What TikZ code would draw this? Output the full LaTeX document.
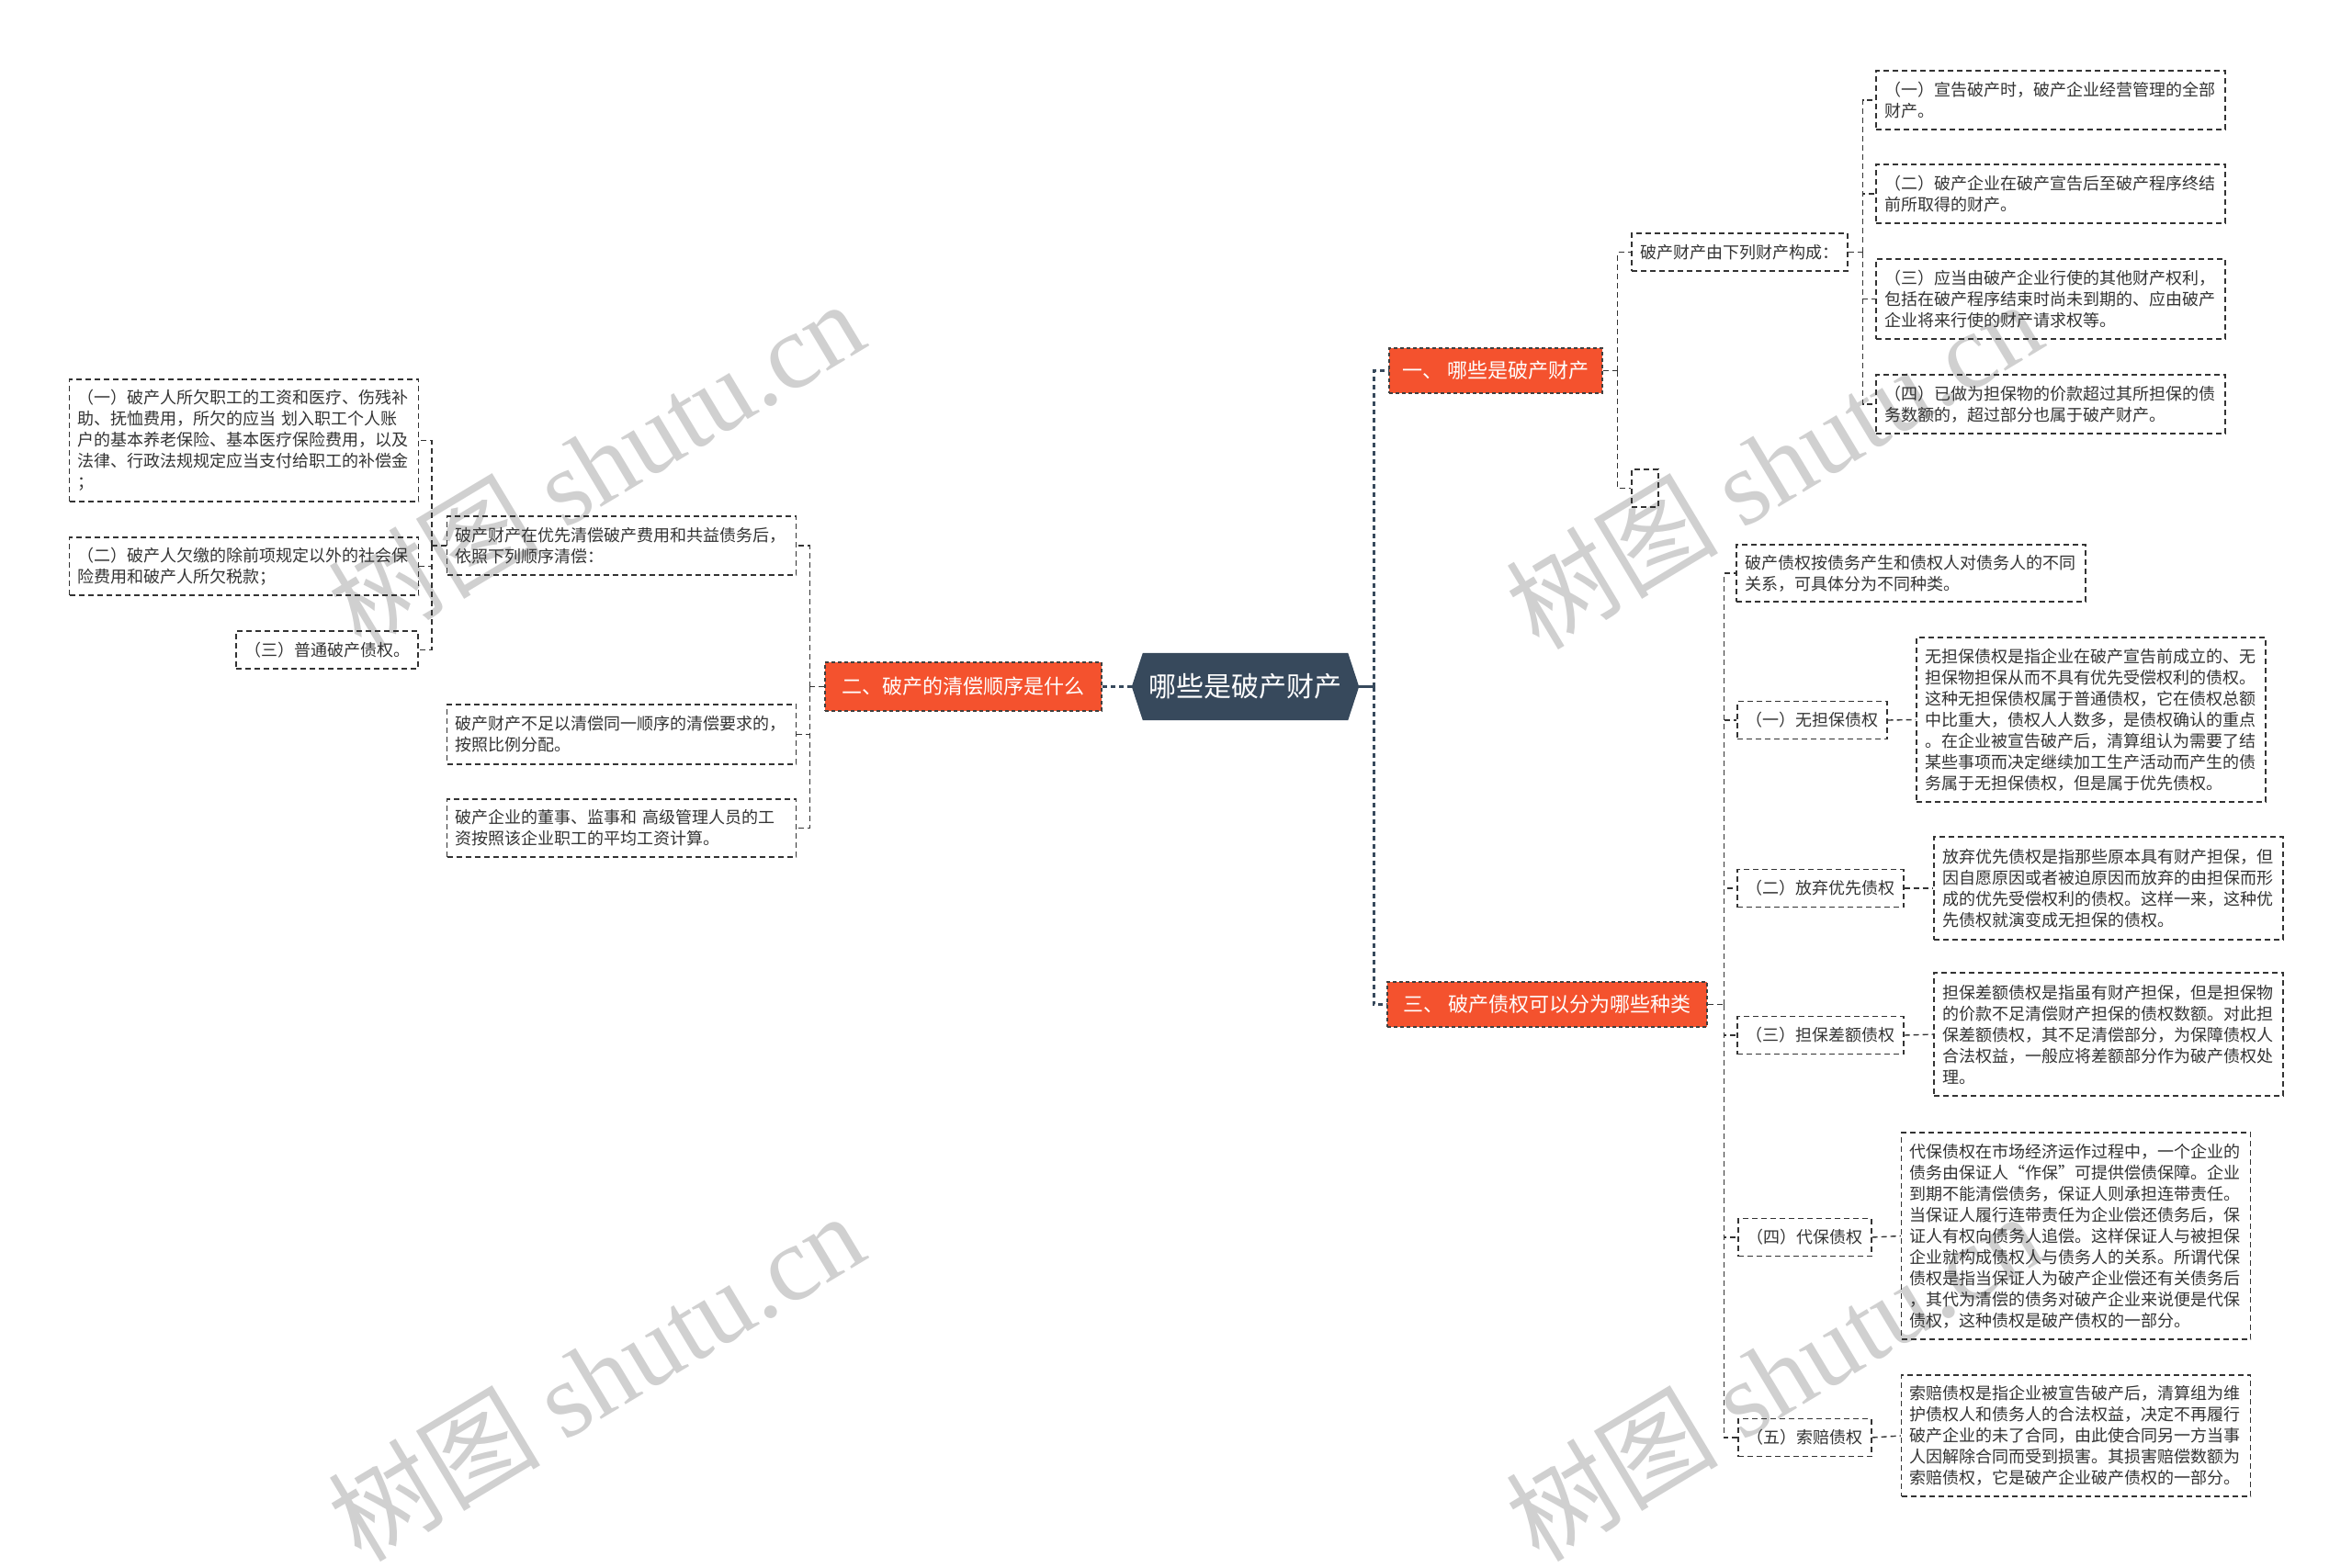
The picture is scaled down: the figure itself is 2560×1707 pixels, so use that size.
\documentclass[tikz,border=0pt]{standalone}
\usepackage{fontspec}
\usetikzlibrary{backgrounds}
\newfontfamily\cjk{Noto Sans CJK SC}
\newfontfamily\wmserif{Liberation Serif}
\definecolor{orangebox}{HTML}{F4522E}
\definecolor{hexfill}{HTML}{37495C}
\definecolor{lnk}{HTML}{333333}
\definecolor{txt}{HTML}{333333}
\definecolor{wm}{HTML}{D0D0D0}
\begin{document}
\begin{tikzpicture}[x=1pt,y=-1pt,
  leaf/.style={draw=lnk, line width=1.4pt, dash pattern=on 6pt off 4pt, inner xsep=9pt, inner ysep=0pt,
    text=txt, font=\cjk\fontsize{18}{23}\selectfont, align=left},
  wide/.style={text width=362pt},
  topic/.style={draw=black!75, fill=orangebox, line width=1.2pt, dash pattern=on 4pt off 3pt,
    text=white, font=\cjk\fontsize{22}{26}\selectfont, inner sep=0pt},
  hexnode/.style={inner sep=0pt, text=white, font=\cjk\fontsize{30}{34}\selectfont},
  link/.style={draw=lnk, line width=1.4pt, dash pattern=on 6pt off 4pt},
  mainlink/.style={draw=hexfill, line width=2.6pt, dash pattern=on 5pt off 4pt},
  wmark/.style={text=wm, font=\cjk\fontsize{116}{126}\selectfont, rotate=31, inner sep=0pt},
]
\useasboundingbox (0,0) rectangle (2560,1707);

% watermarks
\node[wmark] (w1) at (648,505) {树图 {\wmserif shutu.cn}};
\node[wmark] (w2) at (1930,505) {树图 {\wmserif shutu.cn}};
\node[wmark] (w3) at (648,1498) {树图 {\wmserif shutu.cn}};
\node[wmark] (w4) at (1930,1498) {树图 {\wmserif shutu.cn}};

% center
\node[hexnode, minimum width=247, minimum height=73] (c) at (1355.5,747.5) {哪些是破产财产};
\begin{scope}[on background layer]
\fill[hexfill] (c.west) -- ([xshift=12pt]c.north west) -- ([xshift=-12pt]c.north east) -- (c.east)
  -- ([xshift=-12pt]c.south east) -- ([xshift=12pt]c.south west) -- cycle;
\end{scope}

% topics
\node[topic, minimum width=232, minimum height=49] (t1) at (1628,403.5) {一、 哪些是破产财产};
\node[topic, minimum width=301, minimum height=53] (t2) at (1048.5,747.5) {二、破产的清偿顺序是什么};
\node[topic, minimum width=348, minimum height=49] (t3) at (1684,1093.5) {三、 破产债权可以分为哪些种类};

% branch one
\node[leaf, minimum width=235, minimum height=41] (bh) at (1893.5,274.5) {破产财产由下列财产构成：};
\node[leaf, minimum width=29, minimum height=41, inner xsep=0pt] (be) at (1790.5,531.5) {};
\node[leaf, wide, minimum width=378, minimum height=64] (b1) at (2232,109) {（一）宣告破产时，破产企业经营管理的全部\\财产。};
\node[leaf, wide, minimum width=378, minimum height=64] (b2) at (2232,211) {（二）破产企业在破产宣告后至破产程序终结\\前所取得的财产。};
\node[leaf, wide, minimum width=378, minimum height=87] (b3) at (2232,325.5) {（三）应当由破产企业行使的其他财产权利，\\包括在破产程序结束时尚未到期的、应由破产\\企业将来行使的财产请求权等。};
\node[leaf, wide, minimum width=378, minimum height=64] (b4) at (2232,440) {（四）已做为担保物的价款超过其所担保的债\\务数额的，超过部分也属于破产财产。};

% branch two
\node[leaf, wide, minimum width=379, minimum height=64] (A) at (676.5,594) {破产财产在优先清偿破产费用和共益债务后，\\依照下列顺序清偿：};
\node[leaf, wide, minimum width=379, minimum height=65] (B) at (676.5,799.5) {破产财产不足以清偿同一顺序的清偿要求的，\\按照比例分配。};
\node[leaf, wide, minimum width=379, minimum height=63] (C) at (676.5,901.5) {破产企业的董事、监事和 高级管理人员的工\\资按照该企业职工的平均工资计算。};
\node[leaf, wide, minimum width=379, minimum height=133] (a1) at (265.5,479.5) {（一）破产人所欠职工的工资和医疗、伤残补\\助、抚恤费用，所欠的应当 划入职工个人账\\户的基本养老保险、基本医疗保险费用，以及\\法律、行政法规规定应当支付给职工的补偿金\\；};
\node[leaf, wide, minimum width=379, minimum height=63] (a2) at (265.5,616.5) {（二）破产人欠缴的除前项规定以外的社会保\\险费用和破产人所欠税款；};
\node[leaf, minimum width=198, minimum height=41] (a3) at (356,707.5) {（三）普通破产债权。};

% branch three
\node[leaf, wide, minimum width=378, minimum height=62] (d0) at (2080,624) {破产债权按债务产生和债权人对债务人的不同\\关系，可具体分为不同种类。};
\node[leaf, minimum width=163, minimum height=41] (d1l) at (1972.5,784) {（一）无担保债权};
\node[leaf, minimum width=181, minimum height=41] (d2l) at (1981.5,967) {（二）放弃优先债权};
\node[leaf, minimum width=181, minimum height=41] (d3l) at (1981.5,1127) {（三）担保差额债权};
\node[leaf, minimum width=145, minimum height=41] (d4l) at (1964.5,1347) {（四）代保债权};
\node[leaf, minimum width=145, minimum height=41] (d5l) at (1964.5,1565) {（五）索赔债权};
\node[leaf, wide, minimum width=378, minimum height=179] (d1) at (2276,783.5) {无担保债权是指企业在破产宣告前成立的、无\\担保物担保从而不具有优先受偿权利的债权。\\这种无担保债权属于普通债权，它在债权总额\\中比重大，债权人人数多，是债权确认的重点\\。在企业被宣告破产后，清算组认为需要了结\\某些事项而决定继续加工生产活动而产生的债\\务属于无担保债权，但是属于优先债权。};
\node[leaf, wide, minimum width=378, minimum height=112] (d2) at (2295,967) {放弃优先债权是指那些原本具有财产担保，但\\因自愿原因或者被迫原因而放弃的由担保而形\\成的优先受偿权利的债权。这样一来，这种优\\先债权就演变成无担保的债权。};
\node[leaf, wide, minimum width=378, minimum height=134] (d3) at (2295,1126) {担保差额债权是指虽有财产担保，但是担保物\\的价款不足清偿财产担保的债权数额。对此担\\保差额债权，其不足清偿部分，为保障债权人\\合法权益，一般应将差额部分作为破产债权处\\理。};
\node[leaf, wide, minimum width=379, minimum height=225] (d4) at (2259.5,1345.5) {代保债权在市场经济运作过程中，一个企业的\\债务由保证人“作保”可提供偿债保障。企业\\到期不能清偿债务，保证人则承担连带责任。\\当保证人履行连带责任为企业偿还债务后，保\\证人有权向债务人追偿。这样保证人与被担保\\企业就构成债权人与债务人的关系。所谓代保\\债权是指当保证人为破产企业偿还有关债务后\\，其代为清偿的债务对破产企业来说便是代保\\债权，这种债权是破产债权的一部分。};
\node[leaf, wide, minimum width=379, minimum height=132] (d5) at (2259.5,1563) {索赔债权是指企业被宣告破产后，清算组为维\\护债权人和债务人的合法权益，决定不再履行\\破产企业的未了合同，由此使合同另一方当事\\人因解除合同而受到损害。其损害赔偿数额为\\索赔债权，它是破产企业破产债权的一部分。};

% junctions
\coordinate (jc) at ([xshift=16pt]c.east);
\coordinate (j1) at ([xshift=16pt]t1.east);
\coordinate (jh) at ([xshift=16pt]bh.east);
\coordinate (j2) at ([xshift=-16pt]t2.west);
\coordinate (jA) at ([xshift=-16pt]A.west);
\coordinate (j3) at ([xshift=18pt]t3.east);

% main connectors
\draw[hexfill, line width=2.6pt] (c.east) -- (jc);
\draw[mainlink] (jc) |- (t1.west);
\draw[mainlink] (jc) |- (t3.west);
\draw[mainlink] (c.west) -- (t2.east);

% branch one connectors
\draw[link] (t1.east) -- (j1);
\draw[link] (j1) |- (bh.west);
\draw[link] (j1) |- (be.west);
\draw[link] (bh.east) -- (jh);
\draw[link] (jh) |- (b1.west);
\draw[link] (jh) |- (b2.west);
\draw[link] (jh) |- (b3.west);
\draw[link] (jh) |- (b4.west);

% branch two connectors
\draw[link] (t2.west) -- (j2);
\draw[link] (j2) |- (A.east);
\draw[link] (j2) |- (B.east);
\draw[link] (j2) |- (C.east);
\draw[link] (A.west) -- (jA);
\draw[link] (jA) |- (a1.east);
\draw[link] (jA) |- (a2.east);
\draw[link] (jA) |- (a3.east);

% branch three connectors
\draw[link] (t3.east) -- (j3);
\draw[link] (j3) |- (d0.west);
\draw[link] (j3) |- (d1l.west);
\draw[link] (j3) |- (d2l.west);
\draw[link] (j3) |- (d3l.west);
\draw[link] (j3) |- (d4l.west);
\draw[link] (j3) |- (d5l.west);
\draw[link] (d1l.east) -- (d1.west);
\draw[link] (d2l.east) -- (d2.west);
\draw[link] (d3l.east) -- (d3.west);
\draw[link] (d4l.east) -- (d4.west);
\draw[link] (d5l.east) -- (d5.west);
\end{tikzpicture}
\end{document}
